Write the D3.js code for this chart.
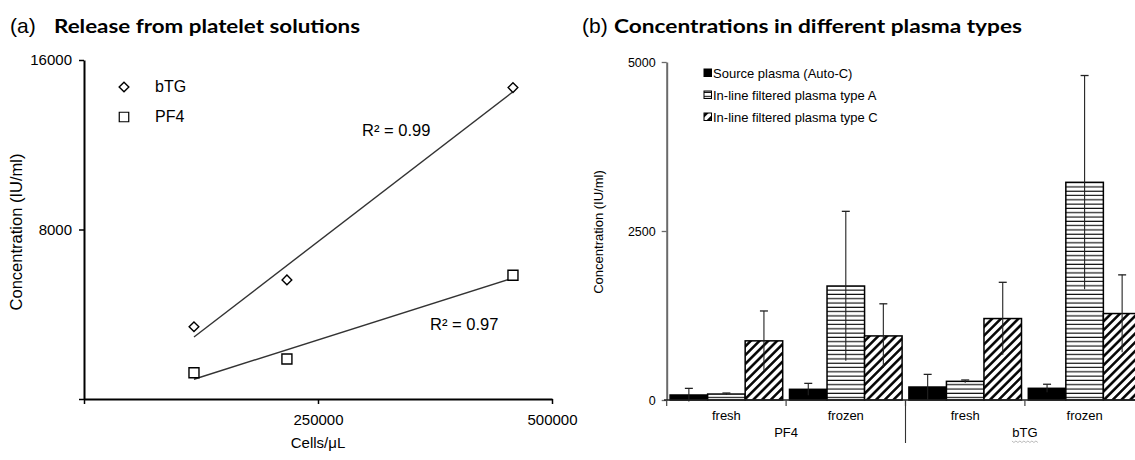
<!DOCTYPE html>
<html>
<head>
<meta charset="utf-8">
<script src="https://d3js.org/d3.v7.min.js"></script>
<style>
  body { margin: 0; background: #fff; }
  text { font-family: "Liberation Sans", Arial, sans-serif; fill: #000; }
  .ttl { font-family: Lato, "Open Sans", sans-serif; font-weight: bold; }
</style>
</head>
<body>
<script>
//----------------------------------------- data -----------------------------------------

// (a) release from platelet solutions
var cells = [117500, 216800, 458300];
var bTG = [3410, 5620, 14700];
var PF4 = [1240, 1890, 5840];
var r2Labels = ["R² = 0.99", "R² = 0.97"];
var xTicksA = [0, 250000, 500000];
var yTicksA = [0, 8000, 16000];

// (b) concentrations in different plasma types
var storage = ["fresh", "frozen", "fresh", "frozen"];
var marker = ["PF4", "PF4", "bTG", "bTG"];
var seriesNames = ["Source plasma (Auto-C)", "In-line filtered plasma type A", "In-line filtered plasma type C"];
var sourceVals = [74, 158, 192, 173];
var sourceErr = [98, 88, 187, 60];
var typeAVals = [88, 1686, 276, 3220];
var typeAErr = [15, 1105, 20, 1580];
var typeCVals = [875, 948, 1205, 1279];
var typeCErr = [442, 475, 536, 572];
var yTicksB = [0, 2500, 5000];

//----------------------------------------- svg ------------------------------------------

var svg = d3.select("body").append("svg")
    .attr("width", 1135)
    .attr("height", 460);

svg.append("rect").attr("width", 1135).attr("height", 460).attr("fill", "#fff");

var defs = svg.append("defs");

var hp = defs.append("pattern").attr("id", "hlines")
    .attr("patternUnits", "userSpaceOnUse")
    .attr("width", 8).attr("height", 4.3);
hp.append("rect").attr("width", 8).attr("height", 4.3).attr("fill", "#fff");
hp.append("line").attr("x1", 0).attr("x2", 8).attr("y1", 2).attr("y2", 2)
    .attr("stroke", "#000").attr("stroke-width", 1.1);

var dp = defs.append("pattern").attr("id", "diag")
    .attr("patternUnits", "userSpaceOnUse")
    .attr("width", 6.2).attr("height", 10)
    .attr("patternTransform", "rotate(45)");
dp.append("rect").attr("width", 6.2).attr("height", 10).attr("fill", "#fff");
dp.append("line").attr("x1", 3.1).attr("x2", 3.1).attr("y1", 0).attr("y2", 10)
    .attr("stroke", "#000").attr("stroke-width", 2.5);

//----------------------------------------- (a) ------------------------------------------

svg.append("text").attr("x", 10).attr("y", 33).style("font-size", "21px").text("(a)");
svg.append("text").attr("class", "ttl").attr("x", 54).attr("y", 33)
    .style("font-size", "18.5px")
    .attr("textLength", 306).attr("lengthAdjust", "spacingAndGlyphs")
    .text("Release from platelet solutions");

var xA = d3.scaleLinear().domain([0, 500000]).range([84, 552]);
var yA = d3.scaleLinear().domain([0, 16000]).range([399, 60]);

var gA = svg.append("g");

gA.append("g").attr("transform", "translate(84,0)")
    .call(d3.axisLeft(yA).tickValues(yTicksA).tickSize(5).tickSizeOuter(0)
        .tickFormat(function(d) { return d === 0 ? "" : d; }))
    .call(function(g) {
      g.select(".domain").attr("stroke-width", 2);
      g.selectAll(".tick line").attr("stroke-width", 1.5);
      g.selectAll(".tick text").attr("x", -12).style("font-size", "15px").style("font-family", "Liberation Sans, Arial");
    });

gA.append("g").attr("transform", "translate(0,399)")
    .call(d3.axisBottom(xA).tickValues(xTicksA).tickSize(5).tickSizeOuter(0)
        .tickFormat(function(d) { return d === 0 ? "" : d; }))
    .call(function(g) {
      g.select(".domain").attr("stroke-width", 2);
      g.selectAll(".tick line").attr("stroke-width", 1.5);
      g.selectAll(".tick text").attr("y", 15).style("font-size", "15px").style("font-family", "Liberation Sans, Arial");
    });

svg.append("text").attr("x", 318).attr("y", 448).attr("text-anchor", "middle")
    .style("font-size", "15px").text("Cells/μL");
svg.append("text").attr("transform", "translate(22,232) rotate(-90)")
    .attr("text-anchor", "middle").style("font-size", "16.5px")
    .text("Concentration (IU/ml)");

// least squares trend line over the measured range
function fit(xs, ys) {
  var mx = d3.mean(xs), my = d3.mean(ys);
  var sxy = d3.sum(xs, function(x, i) { return (x - mx) * (ys[i] - my); });
  var sxx = d3.sum(xs, function(x) { return (x - mx) * (x - mx); });
  var b = sxy / sxx, a = my - b * mx;
  var x0 = d3.min(xs), x1 = d3.max(xs);
  return [[x0, a + b * x0], [x1, a + b * x1]];
}

[bTG, PF4].forEach(function(ys) {
  var seg = fit(cells, ys);
  gA.append("line")
      .attr("x1", xA(seg[0][0])).attr("y1", yA(seg[0][1]))
      .attr("x2", xA(seg[1][0])).attr("y2", yA(seg[1][1]))
      .attr("stroke", "#333").attr("stroke-width", 1.4);
});

var diamond = d3.symbol().type(d3.symbolDiamond2).size(60);
var square = d3.symbol().type(d3.symbolSquare).size(100);

gA.selectAll(".dia").data(bTG).enter().append("path")
    .attr("d", diamond)
    .attr("transform", function(d, i) { return "translate(" + xA(cells[i]) + "," + yA(d) + ")"; })
    .attr("fill", "#fff").attr("stroke", "#000").attr("stroke-width", 1.4);

gA.selectAll(".sq").data(PF4).enter().append("path")
    .attr("d", square)
    .attr("transform", function(d, i) { return "translate(" + xA(cells[i]) + "," + yA(d) + ")"; })
    .attr("fill", "#fff").attr("stroke", "#000").attr("stroke-width", 1.4);

gA.append("text").attr("x", 362).attr("y", 136).style("font-size", "16.5px").text(r2Labels[0]);
gA.append("text").attr("x", 430).attr("y", 330).style("font-size", "16.5px").text(r2Labels[1]);

// legend
gA.append("path").attr("d", diamond).attr("transform", "translate(124,87)")
    .attr("fill", "#fff").attr("stroke", "#000").attr("stroke-width", 1.4);
gA.append("path").attr("d", d3.symbol().type(d3.symbolSquare).size(90)).attr("transform", "translate(124,117)")
    .attr("fill", "#fff").attr("stroke", "#000").attr("stroke-width", 1.2);
gA.append("text").attr("x", 155).attr("y", 92).style("font-size", "16px").text("bTG");
gA.append("text").attr("x", 155).attr("y", 122).style("font-size", "16px").text("PF4");

//----------------------------------------- (b) ------------------------------------------

svg.append("text").attr("x", 582).attr("y", 33).style("font-size", "21px").text("(b)");
svg.append("text").attr("class", "ttl").attr("x", 614).attr("y", 33)
    .style("font-size", "18.5px")
    .attr("textLength", 408).attr("lengthAdjust", "spacingAndGlyphs")
    .text("Concentrations in different plasma types");

var groupIds = d3.range(storage.length);
var x0 = d3.scaleBand().domain(groupIds).range([666.7, 666.7 + 4 * 119.4]);
var x1 = d3.scaleBand().domain(d3.range(3)).range([3.4, 116]);
var yB = d3.scaleLinear().domain([0, 5000]).range([400, 62]);

var gB = svg.append("g");

gB.append("g").attr("transform", "translate(666.7,0)")
    .call(d3.axisLeft(yB).tickValues(yTicksB).tickSize(5).tickSizeOuter(0).tickFormat(d3.format("d")))
    .call(function(g) {
      g.select(".domain").attr("stroke", "#6a6a6a").attr("stroke-width", 2);
      g.selectAll(".tick line").attr("stroke", "#6a6a6a").attr("stroke-width", 1.3);
      g.selectAll(".tick text").attr("x", -11).style("font-size", "12.5px").style("font-family", "Liberation Sans, Arial");
    });

svg.append("text").attr("transform", "translate(603,232) rotate(-90)")
    .attr("text-anchor", "middle").style("font-size", "13px")
    .text("Concentration (IU/ml)");

var bars = [
  { vals: sourceVals, err: sourceErr, fill: "#000" },
  { vals: typeAVals, err: typeAErr, fill: "url(#hlines)" },
  { vals: typeCVals, err: typeCErr, fill: "url(#diag)" }
];

bars.forEach(function(s, si) {
  gB.selectAll(".bar" + si).data(s.vals).enter().append("rect")
      .attr("x", function(d, i) { return x0(i) + x1(si); })
      .attr("width", x1.bandwidth())
      .attr("y", function(d) { return yB(d); })
      .attr("height", function(d) { return yB(0) - yB(d); })
      .attr("fill", s.fill)
      .attr("stroke", "#000").attr("stroke-width", 1.5);
});

bars.forEach(function(s, si) {
  s.vals.forEach(function(v, i) {
    var cx = x0(i) + x1(si) + x1.bandwidth() / 2;
    gB.append("line").attr("x1", cx).attr("x2", cx)
        .attr("y1", yB(v - s.err[i])).attr("y2", yB(v + s.err[i]))
        .attr("stroke", "#222").attr("stroke-width", 1.1);
    gB.append("line").attr("x1", cx - 4).attr("x2", cx + 4)
        .attr("y1", yB(v + s.err[i])).attr("y2", yB(v + s.err[i]))
        .attr("stroke", "#222").attr("stroke-width", 1.3);
  });
});

// x axis with group boundaries
gB.append("line").attr("x1", 664).attr("x2", 1135).attr("y1", 400).attr("y2", 400)
    .attr("stroke", "#222").attr("stroke-width", 1.5);
groupIds.forEach(function(i) {
  gB.append("line").attr("x1", x0(i)).attr("x2", x0(i)).attr("y1", 400).attr("y2", 406)
      .attr("stroke", "#444").attr("stroke-width", 1.2);
});
gB.append("line").attr("x1", x0(2)).attr("x2", x0(2)).attr("y1", 400).attr("y2", 443)
    .attr("stroke", "#333").attr("stroke-width", 1.1);

gB.selectAll(".cat").data(storage).enter().append("text")
    .attr("x", function(d, i) { return x0(i) + x0.bandwidth() / 2; })
    .attr("y", 420).attr("text-anchor", "middle").style("font-size", "13px")
    .text(function(d) { return d; });

var markerGroups = d3.groups(groupIds, function(i) { return marker[i]; });
markerGroups.forEach(function(m) {
  var a = x0(m[1][0]), b = x0(m[1][m[1].length - 1]) + x0.bandwidth();
  gB.append("text").attr("x", (a + b) / 2).attr("y", 437).attr("text-anchor", "middle")
      .style("font-size", "13px").text(m[0]);
});

// spell-check squiggle under bTG
var sq = x0(2) + x0.bandwidth();
var zig = d3.range(0, 27, 2).map(function(d, i) { return [sq - 13 + d, 441 + (i % 2 ? 1.5 : 0)]; });
gB.append("path").attr("d", d3.line()(zig)).attr("fill", "none")
    .attr("stroke", "#aaa").attr("stroke-width", 0.8);

// legend
var legFills = ["#000", "url(#hlines)", "url(#diag)"];
seriesNames.forEach(function(n, i) {
  var ly = 73 + i * 22;
  gB.append("rect").attr("x", 704).attr("y", ly - 4).attr("width", 7.5).attr("height", 7.5)
      .attr("fill", legFills[i]).attr("stroke", "#000").attr("stroke-width", 1);
  gB.append("text").attr("x", 713).attr("y", ly + 4.5).style("font-size", "13px")
      .text(n);
});
</script>
</body>
</html>
